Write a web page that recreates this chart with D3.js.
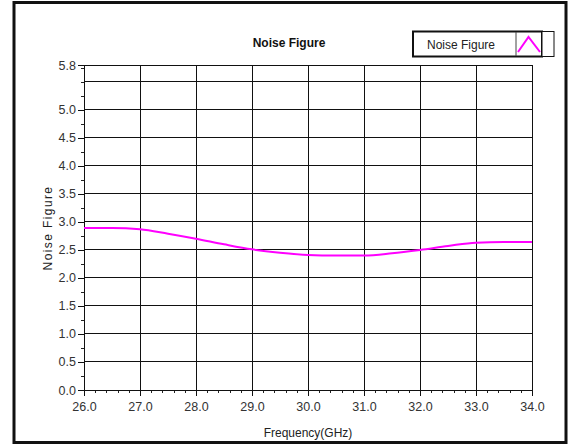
<!DOCTYPE html>
<html>
<head>
<meta charset="utf-8">
<script src="https://cdn.jsdelivr.net/npm/d3@7"></script>
<style>
  body { margin: 0; background: #fff; }
  text { font-family: "Liberation Sans", Arial, sans-serif; }
</style>
</head>
<body>
<div id="chart"></div>
<script>
// frequency (GHz) and noise figure (dB)
var freq = [26.0, 26.5, 27.0, 27.5, 28.0, 28.5, 29.0, 29.5, 30.0, 30.5, 31.0, 31.5, 32.0, 32.5, 33.0, 33.5, 34.0];
var nf   = [2.89, 2.89, 2.87, 2.79, 2.70, 2.60, 2.51, 2.45, 2.41, 2.40, 2.40, 2.44, 2.50, 2.57, 2.63, 2.64, 2.64];
var xTicks = [26, 27, 28, 29, 30, 31, 32, 33, 34];
var yTicks = [0, 0.5, 1, 1.5, 2, 2.5, 3, 3.5, 4, 4.5, 5, 5.8];
var yGrid  = [0.5, 1, 1.5, 2, 2.5, 3, 3.5, 4, 4.5, 5, 5.5];

var W = 569, H = 447;
var svg = d3.select("#chart").append("svg")
    .attr("width", W)
    .attr("height", H);

// outer frame
svg.append("rect")
    .attr("x", 14).attr("y", 2.5)
    .attr("width", 552).attr("height", 440)
    .attr("fill", "#fff")
    .attr("stroke", "#111")
    .attr("stroke-width", 3);

var x = d3.scaleLinear().domain([26, 34]).range([84, 532]);
var y = d3.scaleLinear().domain([0, 5.8]).range([390, 65]);

// grid
svg.append("g").selectAll("line")
    .data(xTicks.slice(1))
    .join("line")
    .attr("x1", d => x(d)).attr("x2", d => x(d))
    .attr("y1", y(5.8)).attr("y2", y(0))
    .attr("stroke", "#111").attr("stroke-width", 1)
    .attr("shape-rendering", "crispEdges");
svg.append("g").selectAll("line")
    .data(yGrid.concat([5.8]))
    .join("line")
    .attr("x1", x(26)).attr("x2", x(34))
    .attr("y1", d => y(d)).attr("y2", d => y(d))
    .attr("stroke", "#111").attr("stroke-width", 1)
    .attr("shape-rendering", "crispEdges");

// plot border
svg.append("rect")
    .attr("x", x(26)).attr("y", y(5.8))
    .attr("width", x(34) - x(26)).attr("height", y(0) - y(5.8))
    .attr("fill", "none")
    .attr("stroke", "#111").attr("stroke-width", 1)
    .attr("shape-rendering", "crispEdges");

// x axis with minor ticks
var xMinor = d3.range(26, 34.001, 0.2);
svg.append("g")
    .attr("transform", "translate(0," + y(0) + ")")
    .call(d3.axisBottom(x).tickValues(xMinor).tickSize(3).tickFormat(""))
    .call(g => g.select(".domain").remove())
    .call(g => g.selectAll("line").attr("stroke", "#222").attr("shape-rendering", "crispEdges"));
svg.append("g")
    .attr("transform", "translate(0," + y(0) + ")")
    .call(d3.axisBottom(x).tickValues(xTicks).tickSize(6).tickPadding(6).tickFormat(d3.format(".1f")))
    .call(g => g.select(".domain").attr("stroke", "#111").attr("shape-rendering", "crispEdges"))
    .call(g => g.selectAll("line").attr("stroke", "#111").attr("shape-rendering", "crispEdges"))
    .call(g => g.selectAll("text").attr("font-size", "12.5px").attr("fill", "#333")
        .style("font-family", "'Liberation Sans', Arial, sans-serif"));

// y axis with minor ticks
var yMinor = d3.range(0, 5.76, 0.25);
svg.append("g")
    .attr("transform", "translate(" + x(26) + ",0)")
    .call(d3.axisLeft(y).tickValues(yMinor).tickSize(3).tickFormat(""))
    .call(g => g.select(".domain").remove())
    .call(g => g.selectAll("line").attr("stroke", "#222").attr("shape-rendering", "crispEdges"));
svg.append("g")
    .attr("transform", "translate(" + x(26) + ",0)")
    .call(d3.axisLeft(y).tickValues(yTicks).tickSize(6).tickPadding(2).tickFormat(d3.format(".1f")))
    .call(g => g.select(".domain").attr("stroke", "#111").attr("shape-rendering", "crispEdges"))
    .call(g => g.selectAll("line").attr("stroke", "#111").attr("shape-rendering", "crispEdges"))
    .call(g => g.selectAll("text").attr("font-size", "12.5px").attr("fill", "#333")
        .style("font-family", "'Liberation Sans', Arial, sans-serif"));

// the curve
svg.append("path")
    .datum(freq.map((f, i) => [f, nf[i]]))
    .attr("fill", "none")
    .attr("stroke", "#ff00ff")
    .attr("stroke-width", 2)
    .attr("d", d3.line()
        .x(d => x(d[0]))
        .y(d => y(d[1]))
        .curve(d3.curveMonotoneX));

// title
svg.append("text")
    .attr("x", 289).attr("y", 47)
    .attr("text-anchor", "middle")
    .attr("font-size", "12px")
    .attr("font-weight", "bold")
    .attr("fill", "#111")
    .text("Noise Figure");

// axis titles
svg.append("text")
    .attr("x", 308).attr("y", 437)
    .attr("text-anchor", "middle")
    .attr("font-size", "12px")
    .attr("fill", "#222")
    .text("Frequency(GHz)");
svg.append("text")
    .attr("transform", "translate(52,228) rotate(-90)")
    .attr("text-anchor", "middle")
    .attr("font-size", "12px")
    .attr("letter-spacing", "1.4px")
    .attr("fill", "#222")
    .text("Noise Figure");

// legend
var lg = svg.append("g");
lg.append("rect")
    .attr("x", 413).attr("y", 31.5)
    .attr("width", 129).attr("height", 25)
    .attr("fill", "#fff")
    .attr("stroke", "#111").attr("stroke-width", 2);
lg.append("rect")
    .attr("x", 542).attr("y", 31.5)
    .attr("width", 12).attr("height", 25)
    .attr("fill", "#fff")
    .attr("stroke", "#111").attr("stroke-width", 1);
lg.append("line")
    .attr("x1", 516).attr("x2", 516)
    .attr("y1", 32).attr("y2", 56)
    .attr("stroke", "#444").attr("stroke-width", 1);
lg.append("path")
    .attr("d", "M518,52 L528.5,37 L540,52")
    .attr("fill", "none")
    .attr("stroke", "#ff00ff")
    .attr("stroke-width", 2);
lg.append("text")
    .attr("x", 427).attr("y", 48.5)
    .attr("font-size", "12px")
    .attr("fill", "#222")
    .text("Noise Figure");
</script>
</body>
</html>
